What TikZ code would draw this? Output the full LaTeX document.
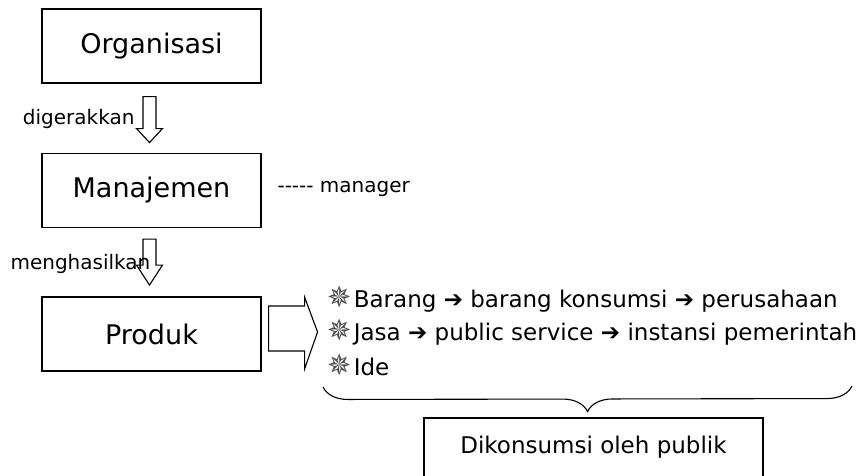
\documentclass[tikz,border=0pt]{standalone}
\usepackage{fontspec}
\setmainfont{DejaVu Sans}
\usetikzlibrary{positioning,calc}
\usetikzlibrary{decorations.pathreplacing}
\tikzset{every picture/.style={line width=1.1pt}}
\tikzset{
  box/.style={draw,minimum width=219pt,minimum height=74pt,inner sep=0pt,font=\fontsize{27}{30}\selectfont},
  note/.style={inner sep=0pt,font=\fontsize{20}{24}\selectfont},
  item/.style={inner sep=0pt,anchor=base west,font=\fontsize{23}{27}\selectfont},
}
\newcommand{\bul}{{\fontsize{29}{29}\selectfont\textcolor{black!70}{✵}}\hspace{2pt}}

\begin{document}
\begin{tikzpicture}[x=1pt,y=-1pt]
  \useasboundingbox (0,0) rectangle (865,475);
  % main chain
  \node[box] (org) at (151.5,46) {Organisasi};
  \node[box] (man) at (151.5,190.5) {Manajemen};
  \node[box] (prod) at (151.5,334) {Produk};

  % hollow arrows
  \coordinate (a1) at ([xshift=-2pt,yshift=-13pt]org.south);
  \draw (a1) ++(-6.5,0) -- ++(0,32) -- ++(-6.5,0) -- ++(13,14) -- ++(13,-14) -- ++(-6.5,0) -- ++(0,-32) -- cycle;
  \coordinate (a2) at ([xshift=-2pt,yshift=-11pt]man.south);
  \draw (a2) ++(-6.5,0) -- ++(0,26) -- ++(-6.5,0) -- ++(13,20) -- ++(13,-20) -- ++(-6.5,0) -- ++(0,-26) -- cycle;
  \coordinate (a3) at ([xshift=7pt]prod.east);
  \draw (a3) ++(0,-28) -- ++(36,0) -- ++(0,-9) -- ++(13,35) -- ++(-13,37) -- ++(0,-18) -- ++(-36,0) -- cycle;

  \node[note,anchor=base east] (dig) at (135,124) {digerakkan};
  \node[note,anchor=base west] (mhs) at (10,269) {menghasilkan};
  \node[note,anchor=base west] (mgr) at (277,192) {\mbox{-}\mbox{-}\mbox{-}\mbox{-}\mbox{-} manager};

  % products
  \node[item] (b1) at (327,307) {\bul Barang ➔ barang konsumsi ➔ perusahaan};
  \node[item] (b2) at (327,340) {\bul Jasa ➔ public service ➔ instansi pemerintah};
  \node[item] (b3) at (327,375) {\bul Ide};

  \coordinate (bl) at (323,387);
  \coordinate (br) at (852,386);
  \draw[decorate,decoration={brace,mirror,amplitude=25pt}] (bl) -- (br);

  \node[draw,minimum width=339pt,minimum height=59pt,inner sep=0pt,font=\fontsize{23}{27}\selectfont] (cons) at (593.5,447.5) {Dikonsumsi oleh publik};
\end{tikzpicture}
\end{document}
